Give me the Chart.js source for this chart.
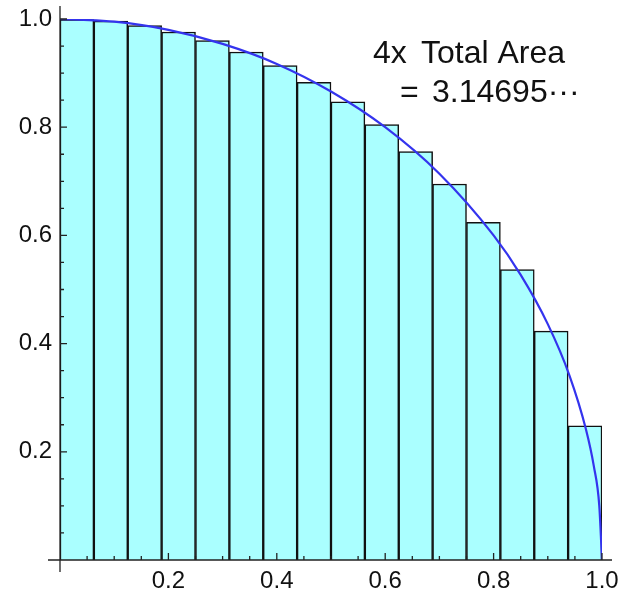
<!DOCTYPE html>
<html>
<head>
<meta charset="utf-8">
<script src="https://cdn.jsdelivr.net/npm/chart.js@4.4.1/dist/chart.umd.min.js"></script>
<style>
  html, body { margin: 0; padding: 0; background: #fff; }
  #c { display: block; }
</style>
</head>
<body>
<canvas id="c" width="621" height="592"></canvas>
<script>
// bar midpoints (16 strips of width 1/16) and heights
const barX = [0.03125, 0.09375, 0.15625, 0.21875, 0.28125, 0.34375, 0.40625, 0.46875,
              0.53125, 0.59375, 0.65625, 0.71875, 0.78125, 0.84375, 0.90625, 0.96875];
const barHeights = [0.999, 0.996, 0.988, 0.976, 0.960, 0.939, 0.914, 0.883,
                    0.847, 0.805, 0.755, 0.695, 0.624, 0.537, 0.423, 0.248];

// points along the blue quarter circle
const curveX = [0, 0.1, 0.2, 0.3, 0.4, 0.5, 0.6, 0.7, 0.8, 0.85, 0.9, 0.94, 0.97, 0.985, 0.995, 1.0];
const curveY = [1, 0.995, 0.980, 0.954, 0.917, 0.866, 0.800, 0.714, 0.600, 0.527, 0.436, 0.341, 0.243, 0.173, 0.100, 0];

const tickValues = [0.2, 0.4, 0.6, 0.8, 1.0];
const tickLabels = ['0.2', '0.4', '0.6', '0.8', '1.0'];

const axisColor = '#222';
const fontFamily = '"Liberation Sans", Arial, sans-serif';

// Mathematica-like axes: lines crossing at origin, ticks pointing inward
const axesPlugin = {
  id: 'axes',
  afterDatasetsDraw(chart) {
    const ctx = chart.ctx;
    const xs = chart.scales.x, ys = chart.scales.y;
    const x0 = xs.getPixelForValue(0), y0 = ys.getPixelForValue(0);
    ctx.save();
    ctx.strokeStyle = axisColor;
    ctx.lineWidth = 1.3;
    ctx.beginPath();
    ctx.moveTo(x0 - 12, y0); ctx.lineTo(xs.getPixelForValue(1) + 10, y0);
    ctx.moveTo(x0, y0 + 12); ctx.lineTo(x0, ys.getPixelForValue(1) - 13);
    for (let i = 1; i <= 20; i++) {
      const v = i * 0.05;
      const len = (i % 4 === 0) ? 7 : 4;
      const px = xs.getPixelForValue(v), py = ys.getPixelForValue(v);
      ctx.moveTo(px, y0); ctx.lineTo(px, y0 - len);
      ctx.moveTo(x0, py); ctx.lineTo(x0 + len, py);
    }
    ctx.stroke();

    ctx.fillStyle = '#111';
    ctx.font = '32px ' + fontFamily;
    ctx.textBaseline = 'alphabetic';
    ctx.fillText('4x', 373, 63);
    ctx.fillText('Total Area', 421, 63);
    ctx.fillText('=', 400, 102);
    ctx.fillText('3.14695\u00b7\u00b7\u00b7', 432, 102);
    ctx.restore();
  }
};

const fixTicks = (scale) => {
  scale.ticks = tickValues.map(v => ({ value: v }));
};

new Chart(document.getElementById('c'), {
  data: {
    datasets: [
      {
        type: 'line',
        data: curveX.map((x, i) => ({ x: x, y: curveY[i] })),
        borderColor: '#3434ee',
        borderWidth: 2.2,
        pointRadius: 0,
        cubicInterpolationMode: 'monotone',
        order: 0
      },
      {
        type: 'bar',
        data: barX.map((x, i) => ({ x: x, y: barHeights[i] })),
        backgroundColor: '#aaffff',
        borderColor: '#111',
        borderWidth: 1.5,
        barPercentage: 1,
        categoryPercentage: 1,
        order: 1
      }
    ]
  },
  options: {
    responsive: false,
    animation: false,
    layout: { padding: { left: 0, right: 19, top: 19, bottom: 0 } },
    plugins: { legend: { display: false }, tooltip: { enabled: false } },
    scales: {
      x: {
        type: 'linear',
        min: 0, max: 1,
        offset: false,
        afterBuildTicks: fixTicks,
        afterFit: (s) => { s.height = 32; s.paddingLeft = 0; s.paddingRight = 0; },
        grid: { display: false, drawTicks: false },
        border: { display: false },
        ticks: {
          padding: 7,
          color: '#111',
          font: { size: 24, family: fontFamily },
          callback: (v) => tickLabels[tickValues.indexOf(v)]
        }
      },
      y: {
        type: 'linear',
        min: 0, max: 1,
        afterBuildTicks: fixTicks,
        afterFit: (s) => { s.width = 60; s.paddingTop = 0; s.paddingBottom = 0; },
        grid: { display: false, drawTicks: false },
        border: { display: false },
        ticks: {
          padding: 8,
          color: '#111',
          font: { size: 24, family: fontFamily },
          callback: (v) => tickLabels[tickValues.indexOf(v)]
        }
      }
    }
  },
  plugins: [axesPlugin]
});
</script>
</body>
</html>
